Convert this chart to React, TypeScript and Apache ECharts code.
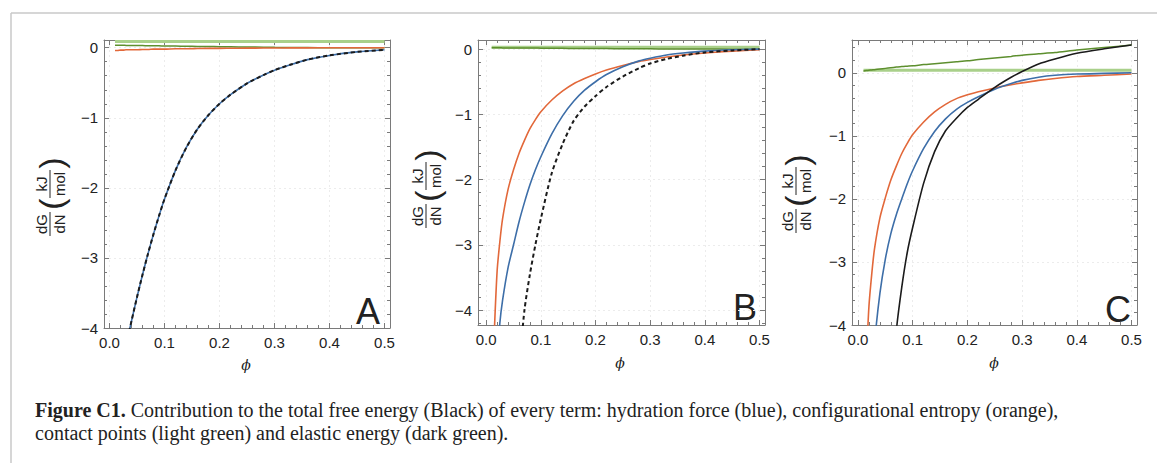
import React, { useEffect, useRef } from "react";
import * as echarts from "echarts";

// shared volume-fraction grid (phi)
const PHI = [0.01, 0.015, 0.02, 0.025, 0.03, 0.04, 0.05, 0.06, 0.07, 0.08, 0.09, 0.1, 0.12, 0.14, 0.16, 0.18, 0.2, 0.22, 0.25, 0.28, 0.3, 0.33, 0.36, 0.4, 0.45, 0.5];

// Panel A
const A_TOTAL = [null, null, null, null, -4.25, -3.9, -3.56, -3.24, -2.94, -2.66, -2.4, -2.16, -1.75, -1.42, -1.16, -0.96, -0.8, -0.67, -0.51, -0.39, -0.32, -0.24, -0.17, -0.11, -0.06, -0.03];
const A_HYDRATION = [null, null, null, null, -4.25, -3.9, -3.56, -3.24, -2.94, -2.66, -2.4, -2.16, -1.75, -1.42, -1.16, -0.96, -0.8, -0.67, -0.51, -0.39, -0.32, -0.24, -0.17, -0.11, -0.06, -0.03];
const A_ENTROPY = [-0.04, -0.04, -0.035, -0.035, -0.03, -0.03, -0.03, -0.025, -0.025, -0.02, -0.02, -0.02, -0.015, -0.015, -0.012, -0.01, -0.01, -0.008, -0.006, -0.005, -0.004, -0.003, -0.002, -0.001, 0, 0];
const A_CONTACT = [0.09, 0.09, 0.09, 0.09, 0.09, 0.09, 0.09, 0.09, 0.09, 0.09, 0.09, 0.09, 0.09, 0.09, 0.09, 0.09, 0.09, 0.09, 0.09, 0.09, 0.09, 0.09, 0.09, 0.09, 0.09, 0.09];
const A_ELASTIC = [0.035, 0.035, 0.034, 0.034, 0.033, 0.032, 0.031, 0.03, 0.029, 0.028, 0.027, 0.025, 0.023, 0.021, 0.019, 0.017, 0.015, 0.013, 0.01, 0.007, 0.005, 0.003, 0.002, 0, 0, 0];

// Panel B
const B_TOTAL = [null, null, null, null, null, null, null, -4.9, -4.0, -3.45, -3.0, -2.6, -1.9, -1.45, -1.1, -0.88, -0.72, -0.58, -0.42, -0.29, -0.22, -0.15, -0.1, -0.05, -0.02, 0];
const B_HYDRATION = [null, null, -4.8, -4.2, -3.85, -3.35, -3.0, -2.65, -2.35, -2.08, -1.85, -1.65, -1.3, -1.02, -0.8, -0.63, -0.5, -0.39, -0.27, -0.18, -0.14, -0.09, -0.06, -0.03, -0.01, 0];
const B_ENTROPY = [null, -4.3, -3.4, -2.95, -2.6, -2.15, -1.85, -1.6, -1.4, -1.22, -1.08, -0.96, -0.78, -0.64, -0.53, -0.45, -0.38, -0.32, -0.25, -0.19, -0.16, -0.12, -0.09, -0.06, -0.03, -0.01];
const B_CONTACT = [0.03, 0.03, 0.03, 0.03, 0.03, 0.03, 0.03, 0.03, 0.03, 0.03, 0.03, 0.03, 0.03, 0.03, 0.03, 0.03, 0.03, 0.03, 0.03, 0.03, 0.03, 0.03, 0.03, 0.03, 0.03, 0.03];
const B_ELASTIC = [0.02, 0.02, 0.02, 0.02, 0.019, 0.019, 0.018, 0.018, 0.017, 0.016, 0.016, 0.015, 0.013, 0.012, 0.011, 0.01, 0.009, 0.008, 0.006, 0.005, 0.004, 0.003, 0.002, 0.001, 0, 0];

// Panel C
const C_TOTAL = [null, null, null, null, null, null, null, -5.5, -4.1, -3.4, -2.85, -2.45, -1.75, -1.25, -0.92, -0.72, -0.55, -0.42, -0.23, -0.07, 0.02, 0.14, 0.22, 0.31, 0.38, 0.44];
const C_HYDRATION = [null, null, null, -4.9, -4.3, -3.5, -2.95, -2.55, -2.25, -2.0, -1.76, -1.55, -1.2, -0.93, -0.73, -0.58, -0.47, -0.38, -0.26, -0.17, -0.12, -0.07, -0.04, -0.02, -0.01, 0];
const C_ENTROPY = [null, -4.6, -3.7, -3.2, -2.8, -2.3, -1.98, -1.7, -1.48, -1.28, -1.12, -0.98, -0.78, -0.62, -0.5, -0.41, -0.35, -0.3, -0.24, -0.19, -0.16, -0.12, -0.09, -0.06, -0.04, -0.02];
const C_CONTACT = [0.04, 0.04, 0.04, 0.04, 0.04, 0.04, 0.04, 0.04, 0.04, 0.04, 0.04, 0.04, 0.04, 0.04, 0.04, 0.04, 0.04, 0.04, 0.04, 0.04, 0.04, 0.04, 0.04, 0.04, 0.04, 0.04];
const C_ELASTIC = [0.03, 0.035, 0.04, 0.045, 0.05, 0.06, 0.07, 0.08, 0.09, 0.1, 0.105, 0.11, 0.13, 0.145, 0.16, 0.175, 0.19, 0.21, 0.235, 0.26, 0.28, 0.3, 0.32, 0.36, 0.4, 0.44];

const X_TICKS = ["0.0", "0.1", "0.2", "0.3", "0.4", "0.5"];
const Y_TICKS = ["−4", "−3", "−2", "−1", "0"];
const PANEL_LETTERS = ["A", "B", "C"];
const X_TITLE = "ϕ";
const CAPTION_BOLD = "Figure C1.";
const CAPTION_LINE1 = " Contribution to the total free energy (Black) of every term: hydration force (blue), configurational entropy (orange),";
const CAPTION_LINE2 = "contact points (light green) and elastic energy (dark green).";

const COLORS = {
  blue: "#3d6ea8",
  orange: "#e2683a",
  light: "#a9d08a",
  dark: "#5d8f2e",
  black: "#1b1b1b",
};

const pairs = (vals: (number | null)[]) =>
  PHI.map((x, i) => (vals[i] == null ? null : [x, vals[i] as number])).filter((p) => p !== null);

const PANELS = [
  { left: 104, top: 40, width: 286, height: 288, xmin: -0.01, xmax: 0.51, ymin: -4, ymax: 0.11, total: A_TOTAL, hyd: A_HYDRATION, ent: A_ENTROPY, con: A_CONTACT, ela: A_ELASTIC, dashed: true, letter: [368, 311], title: [50, 190], phi: [246, 365] },
  { left: 478, top: 40, width: 287, height: 285, xmin: -0.015, xmax: 0.51, ymin: -4.23, ymax: 0.14, total: B_TOTAL, hyd: B_HYDRATION, ent: B_ENTROPY, con: B_CONTACT, ela: B_ELASTIC, dashed: true, letter: [745, 307], title: [426, 182], phi: [620, 363] },
  { left: 852, top: 40, width: 285, height: 285, xmin: -0.011, xmax: 0.51, ymin: -4, ymax: 0.52, total: C_TOTAL, hyd: C_HYDRATION, ent: C_ENTROPY, con: C_CONTACT, ela: C_ELASTIC, dashed: false, letter: [1118, 309], title: [796, 187], phi: [994, 363] },
];

const isMult = (v: number, step: number) => Math.abs(v / step - Math.round(v / step)) < 1e-6;

function fracTitle(cx: number, cy: number) {
  const f = { fontFamily: "Liberation Sans, Arial, sans-serif", fontSize: 15, fill: "#222" };
  return {
    type: "group",
    x: cx,
    y: cy,
    rotation: Math.PI / 2,
    children: [
      { type: "text", x: -34, y: -9, style: { ...f, text: "dG", align: "center", verticalAlign: "middle" } },
      { type: "line", shape: { x1: -46, y1: 0, x2: -22, y2: 0 }, style: { stroke: "#222", lineWidth: 1 } },
      { type: "text", x: -34, y: 9, style: { ...f, text: "dN", align: "center", verticalAlign: "middle" } },
      { type: "text", x: -14, y: 1, style: { ...f, fontSize: 34, fontWeight: 200, text: "(", align: "center", verticalAlign: "middle" } },
      { type: "text", x: 6, y: -9, style: { ...f, text: "kJ", align: "center", verticalAlign: "middle" } },
      { type: "line", shape: { x1: -8, y1: 0, x2: 20, y2: 0 }, style: { stroke: "#222", lineWidth: 1 } },
      { type: "text", x: 6, y: 9, style: { ...f, text: "mol", align: "center", verticalAlign: "middle" } },
      { type: "text", x: 27, y: 1, style: { ...f, fontSize: 34, fontWeight: 200, text: ")", align: "center", verticalAlign: "middle" } },
    ],
  };
}

export default function App() {
  const ref = useRef<HTMLDivElement>(null);
  useEffect(() => {
    if (!ref.current) return;
    const chart = echarts.init(ref.current, null, { renderer: "svg" });
    const grid: any[] = [];
    const xAxis: any[] = [];
    const yAxis: any[] = [];
    const series: any[] = [];
    const graphic: any[] = [];
    const frame = "#7a7a7a";
    const labelFont = { fontFamily: "Liberation Sans, Arial, sans-serif", fontSize: 15, color: "#222" };

    PANELS.forEach((p, i) => {
      grid.push({ left: p.left, top: p.top, width: p.width, height: p.height, containLabel: false });
      const baseX = {
        type: "value",
        gridIndex: i,
        min: p.xmin,
        max: p.xmax,
        minInterval: 0.1,
        maxInterval: 0.1,
        axisLine: { show: true, onZero: false, lineStyle: { color: frame, width: 1 } },
        axisTick: { show: true, inside: true, length: 5, lineStyle: { color: frame } },
        minorTick: { show: true, splitNumber: 5, length: 3, lineStyle: { color: frame } },
      };
      xAxis.push({
        ...baseX,
        position: "bottom",
        axisLabel: {
          ...labelFont,
          margin: 7,
          formatter: (v: number) => (isMult(v, 0.1) && v > -1e-9 ? X_TICKS[Math.round(v * 10)] ?? "" : ""),
        },
        splitLine: { show: true, lineStyle: { color: "#ececec", type: [2, 3] } },
      });
      xAxis.push({ ...baseX, position: "top", axisLabel: { show: false }, splitLine: { show: false } });
      const baseY = {
        type: "value",
        gridIndex: i,
        min: p.ymin,
        max: p.ymax,
        minInterval: 1,
        maxInterval: 1,
        axisLine: { show: true, onZero: false, lineStyle: { color: frame, width: 1 } },
        axisTick: { show: true, inside: true, length: 5, lineStyle: { color: frame } },
        minorTick: { show: true, splitNumber: 5, length: 3, lineStyle: { color: frame } },
      };
      yAxis.push({
        ...baseY,
        position: "left",
        axisLabel: {
          ...labelFont,
          margin: 6,
          formatter: (v: number) => (isMult(v, 1) ? Y_TICKS[Math.round(v) + 4] ?? "" : ""),
        },
        splitLine: { show: true, lineStyle: { color: "#ececec", type: [2, 3] } },
      });
      yAxis.push({ ...baseY, position: "right", axisLabel: { show: false }, splitLine: { show: false } });

      const xi = i * 2;
      const mk = (name: string, vals: (number | null)[], color: string, width: number, type: any = "solid") => ({
        name,
        type: "line",
        xAxisIndex: xi,
        yAxisIndex: xi,
        data: pairs(vals),
        showSymbol: false,
        symbol: "none",
        smooth: 0.25,
        clip: true,
        lineStyle: { color, width, type },
        z: 3,
      });
      series.push(mk("contact points", p.con, COLORS.light, 3));
      series.push(mk("elastic energy", p.ela, COLORS.dark, 1.5));
      series.push(mk("configurational entropy", p.ent, COLORS.orange, 1.6));
      series.push(mk("hydration force", p.hyd, COLORS.blue, 1.6));
      series.push(mk("total", p.total, COLORS.black, p.dashed ? 2 : 1.6, p.dashed ? [4, 3] : "solid"));

      graphic.push({
        type: "text",
        x: p.letter[0],
        y: p.letter[1],
        style: { text: PANEL_LETTERS[i], fontFamily: "Liberation Sans, Arial, sans-serif", fontSize: 36, fill: "#222", align: "center", verticalAlign: "middle" },
      });
      graphic.push(fracTitle(p.title[0], p.title[1]));
      graphic.push({
        type: "text",
        x: p.phi[0],
        y: p.phi[1],
        style: { text: X_TITLE, fontFamily: "DejaVu Serif, serif", fontStyle: "italic", fontSize: 14, fill: "#222", align: "center", verticalAlign: "middle" },
      });
    });

    graphic.push({ type: "line", shape: { x1: 11, y1: 13, x2: 1157, y2: 13 }, style: { stroke: "#c8c8c8", lineWidth: 1.5 } });
    graphic.push({ type: "line", shape: { x1: 11, y1: 13, x2: 11, y2: 463 }, style: { stroke: "#c8c8c8", lineWidth: 1.5 } });
    graphic.push({
      type: "text",
      x: 35,
      y: 410,
      style: {
        text: "{b|" + CAPTION_BOLD + "}" + CAPTION_LINE1,
        fontFamily: "Liberation Serif, serif",
        fontSize: 20,
        fill: "#222",
        verticalAlign: "middle",
        rich: { b: { fontFamily: "Liberation Serif, serif", fontSize: 20, fontWeight: "bold", fill: "#222" } },
      },
    });
    graphic.push({
      type: "text",
      x: 35,
      y: 433,
      style: { text: CAPTION_LINE2, fontFamily: "Liberation Serif, serif", fontSize: 20, fill: "#222", verticalAlign: "middle" },
    });

    chart.setOption({ animation: false, backgroundColor: "#fff", grid, xAxis, yAxis, series, graphic });
    return () => chart.dispose();
  }, []);
  return <div ref={ref} style={{ position: "fixed", left: 0, top: 0, width: 1157, height: 463 }} />;
}
